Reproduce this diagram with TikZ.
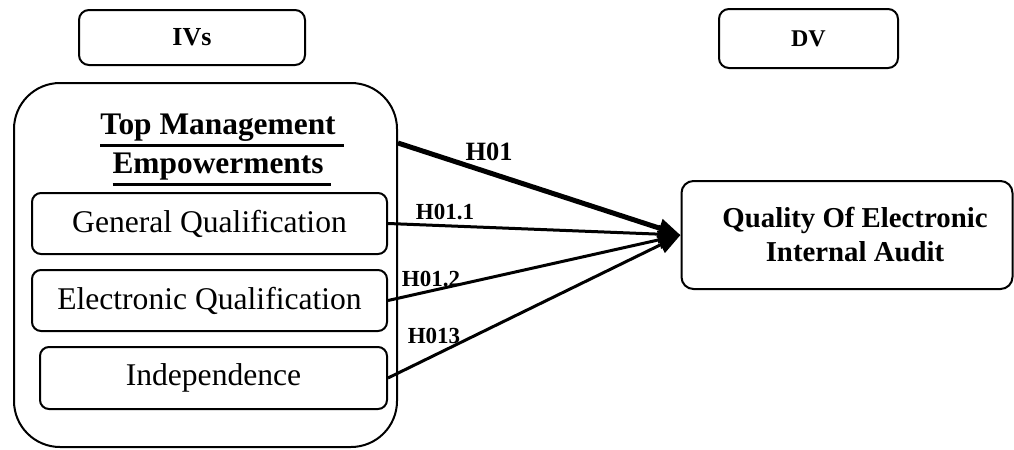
\documentclass[tikz,border=0pt]{standalone}
\usepackage{fontspec}
\setmainfont{Liberation Serif}
\usetikzlibrary{arrows.meta,calc}
\newcommand{\thickul}[1]{\vtop{\hbox{#1}\kern1.2pt\hrule height 1.3pt}}
\tikzset{
  headbox/.style={draw,line width=1pt,rounded corners=5pt,font=\fontsize{13}{15}\selectfont\bfseries},
  itembox/.style={draw,line width=1pt,rounded corners=4.5pt,font=\fontsize{15.8}{19}\selectfont},
  hyp/.style={line width=1.5pt,-{Triangle[length=11pt,width=9pt]}},
  hyplabel/.style={font=\fontsize{11.5}{13}\selectfont\bfseries,inner sep=0pt}
}

\begin{document}
\begin{tikzpicture}[x=0.5pt,y=-0.5pt]
    \useasboundingbox (0,0) rectangle (1014,450);
    \node[headbox,minimum width=113pt,minimum height=27.5pt](ivs) at (192,37.5){IVs};
    \node[headbox,minimum width=89.5pt,minimum height=29.5pt,font=\fontsize{12}{14}\selectfont\bfseries](dv) at (808.5,38.5){DV};
    \node[draw,line width=1pt,rounded corners=23pt,minimum width=191.5pt,minimum height=182pt](outer) at (205.5,265){};
    \node[align=center,font=\fontsize{15.7}{19.5}\selectfont\bfseries](title) at (222,150){\thickul{Top Management\ }\\\thickul{Empowerments\ }};
    \node[itembox,minimum width=177.5pt,minimum height=30.5pt](gq) at (209.5,223.5){General Qualification};
    \node[itembox,minimum width=177.5pt,minimum height=30.5pt](eq) at (209.5,300.5){Electronic Qualification};
    \node[itembox,minimum width=173.5pt,minimum height=31pt](ind) at (213.5,378){Independence};
    \node[draw,line width=1pt,rounded corners=6pt,minimum width=165.5pt,minimum height=54pt,align=center,font=\fontsize{14.4}{17}\selectfont\bfseries](qeia) at (847,235){\hspace*{8pt}Quality Of Electronic\\\hspace*{8pt}Internal Audit};
    % hypotheses
    \draw[hyp,line width=2.5pt]($(outer.east)+(0,-122)$)--(qeia.west);
    \draw[hyp](gq.east)--(qeia.west);
    \draw[hyp](eq.east)--(qeia.west);
    \draw[hyp](ind.east)--(qeia.west);
    \node[hyplabel,font=\fontsize{13.2}{15}\selectfont\bfseries](h01) at (489,152){H01};
    \node[hyplabel](h011) at (445,212){H01.1};
    \node[hyplabel](h012) at (431,279){H01.2};
    \node[hyplabel](h013) at (434,336){H013};
\end{tikzpicture}
\end{document}
